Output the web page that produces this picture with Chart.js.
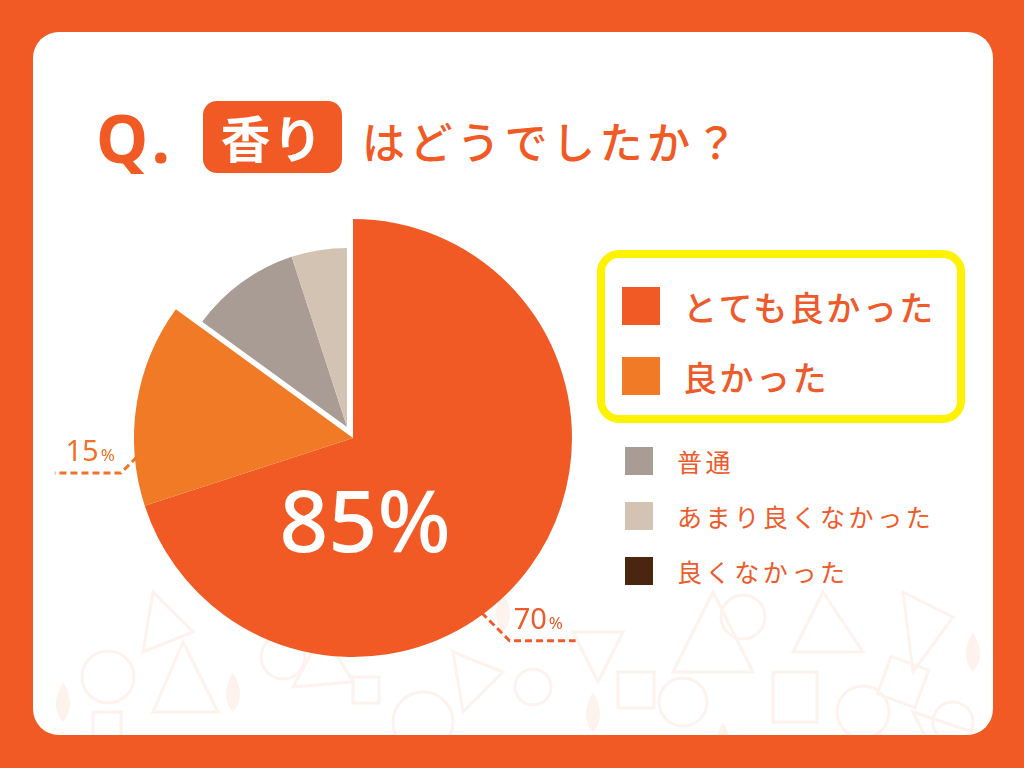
<!DOCTYPE html>
<html lang="ja">
<head>
<meta charset="utf-8">
<title>香りはどうでしたか？</title>
<script src="https://cdn.jsdelivr.net/npm/chart.js@4"></script>
<style>
  html, body { margin: 0; padding: 0; }
  body {
    width: 1024px; height: 768px; overflow: hidden; position: relative;
    background: #F15A24;
    font-family: "Noto Sans CJK JP", "Noto Sans", sans-serif;
  }
  .card {
    position: absolute; left: 33px; top: 32px; width: 960px; height: 703px;
    background: #fff; border-radius: 26px; overflow: hidden;
  }
  .card svg { position: absolute; left: 0; top: 0; }
  canvas { position: absolute; left: 0; top: 0; }
  .q {
    position: absolute; left: 96px; top: 92px; color: #F15A24;
    font: 700 66px "Noto Sans", sans-serif; letter-spacing: 6px;
  }
  .tag {
    position: absolute; left: 203px; top: 101px; width: 139px; height: 72px;
    background: #F15A24; border-radius: 14px; color: #fff;
    font-weight: 700; font-size: 50px; line-height: 70px; text-align: center; letter-spacing: 2px;
  }
  .rest {
    position: absolute; left: 362px; top: 110px; color: #F15A24;
    font-weight: 500; font-size: 43px; letter-spacing: 4.5px; line-height: 60px;
  }
  .hl {
    position: absolute; left: 597px; top: 250px; width: 352px; height: 157px;
    border: 8px solid #FFF200; border-radius: 22px; background: #fff;
  }
  .item { position: absolute; display: flex; align-items: center; color: #EE5A2A; }
  .item span.box { display: inline-block; flex: none; }
</style>
</head>
<body>
<div class="card">
  <svg width="960" height="703" fill="none" stroke="#FDF2EC" stroke-width="3">
    <polygon points="120,560 160,600 110,620" />
    <circle cx="75" cy="645" r="26" />
    <polygon points="150,610 185,680 120,680" />
    <rect x="60" y="680" width="28" height="28" />
    <circle cx="250" cy="625" r="22" />
    <polygon points="290,600 320,650 260,655" />
    <rect x="320" y="645" width="26" height="26" />
    <circle cx="390" cy="690" r="30" />
    <polygon points="420,620 470,640 430,680" />
    <circle cx="500" cy="655" r="18" />
    <polygon points="540,600 590,600 565,650" />
    <rect x="585" y="640" width="36" height="36" />
    <circle cx="650" cy="670" r="24" />
    <polygon points="680,560 720,640 640,640" />
    <circle cx="710" cy="585" r="22" />
    <rect x="740" y="640" width="44" height="50" />
    <polygon points="790,560 830,620 760,620" />
    <circle cx="830" cy="680" r="26" />
    <polygon points="870,560 920,585 880,640" />
    <rect x="850" y="630" width="40" height="40" transform="rotate(20 870 650)" />
    <circle cx="920" cy="690" r="20" />
    <polygon points="880,680 940,700 900,720" />
    <g fill="#FDF2EC" stroke="none">
      <path d="M200,640 q14,24 0,40 q-14,-16 0,-40z" />
      <path d="M560,660 q14,24 0,40 q-14,-16 0,-40z" />
      <path d="M690,690 q14,24 0,40 q-14,-16 0,-40z" />
      <path d="M940,600 q14,24 0,40 q-14,-16 0,-40z" />
      <path d="M30,650 q14,24 0,40 q-14,-16 0,-40z" />
      <path d="M470,560 q14,24 0,40 q-14,-16 0,-40z" />
    </g>
  </svg>
</div>
<div class="q">Q.</div>
<div class="tag">香り</div>
<div class="rest">はどうでしたか？</div>
<div class="hl"></div>
<div id="legend"></div>
<canvas id="pieMain" width="1024" height="768"></canvas>
<canvas id="pieSub" width="1024" height="768"></canvas>
<script>
// answers, share in percent
const categories = ['とても良かった', '良かった', '普通', 'あまり良くなかった', '良くなかった'];
const values = [70, 15, 10, 5, 0];
const colors = ['#F15A24', '#F07A26', '#A89C94', '#D3C3B3', '#4A2610'];
// first two answers are the "good" group: big pie + yellow box
const highlighted = [true, true, false, false, false];
// where along each slice the leader line leaves the pie (0..1), -1 = no label
const leaderAt = [0.57, 0.24, -1, -1, -1];
const leaderDrop = [28, 16, 0, 0, 0];

const clear = 'rgba(0,0,0,0)';

// legend
const legend = document.getElementById('legend');
let bigRow = 0, smallRow = 0;
categories.forEach((name, i) => {
  const el = document.createElement('div');
  el.className = 'item';
  const box = document.createElement('span');
  box.className = 'box';
  box.style.background = colors[i];
  const txt = document.createElement('span');
  txt.textContent = name;
  if (highlighted[i]) {
    el.style.left = '622px';
    el.style.top = (287 + bigRow * 70) + 'px';
    el.style.height = '38px';
    box.style.width = box.style.height = '38px';
    box.style.marginRight = '23px';
    txt.style.fontSize = '34px';
    txt.style.fontWeight = '500';
    txt.style.letterSpacing = '2.5px';
    bigRow++;
  } else {
    el.style.left = '625px';
    el.style.top = (447 + smallRow * 55) + 'px';
    el.style.height = '28px';
    box.style.width = box.style.height = '28px';
    box.style.marginRight = '24px';
    txt.style.fontSize = '25px';
    txt.style.fontWeight = '400';
    txt.style.letterSpacing = '3.6px';
    smallRow++;
  }
  el.appendChild(box);
  el.appendChild(txt);
  legend.appendChild(el);
});

// leader lines + percent labels + total in the big slice
const pieLabels = {
  id: 'pieLabels',
  afterDatasetsDraw(chart) {
    const ctx = chart.ctx;
    const arcs = chart.getDatasetMeta(0).data;
    ctx.save();
    arcs.forEach((arc, i) => {
      if (leaderAt[i] < 0) return;
      const a = arc.startAngle + (arc.endAngle - arc.startAngle) * leaderAt[i];
      const r = arc.outerRadius;
      const x0 = arc.x + Math.cos(a) * (r - 2);
      const y0 = arc.y + Math.sin(a) * (r - 2);
      const dir = Math.cos(a) >= 0 ? 1 : -1;
      const x1 = x0 + dir * leaderDrop[i], y1 = y0 + leaderDrop[i];
      const x2 = x1 + dir * 66;
      const col = i === 1 ? '#EF7228' : '#EE5A2A';
      ctx.strokeStyle = col;
      ctx.lineWidth = 3;
      ctx.setLineDash([7, 4]);
      ctx.beginPath();
      ctx.moveTo(x0, y0);
      ctx.lineTo(x1, y1);
      ctx.lineTo(x2, y1);
      ctx.stroke();
      ctx.setLineDash([]);
      ctx.fillStyle = col;
      ctx.textBaseline = 'alphabetic';
      const num = String(values[i]);
      ctx.font = '400 29px "Noto Sans"';
      const wNum = ctx.measureText(num).width;
      ctx.font = '400 17px "Noto Sans"';
      const wPct = ctx.measureText('%').width;
      const start = dir > 0 ? x1 + 4 : x1 - 6 - wNum - 2 - wPct;
      const by = y1 - 12;
      ctx.font = '400 29px "Noto Sans"';
      ctx.textAlign = 'left';
      ctx.fillText(num, start, by);
      ctx.font = '400 17px "Noto Sans"';
      ctx.fillText('%', start + wNum + 2, by);
    });
    // total of the highlighted group
    const total = values.reduce((s, v, i) => s + (highlighted[i] ? v : 0), 0);
    const c = arcs[0];
    ctx.fillStyle = '#ffffff';
    ctx.font = '500 86px "Noto Sans"';
    ctx.textAlign = 'center';
    ctx.fillText(total + '%', c.x + 12, c.y + 114);
    ctx.restore();
  }
};

const makePie = (id, bg, padding, plugins) => new Chart(document.getElementById(id), {
  type: 'pie',
  data: {
    labels: categories,
    datasets: [{ data: values, backgroundColor: bg, borderWidth: 0 }]
  },
  options: {
    responsive: false,
    animation: false,
    layout: { padding },
    plugins: { legend: { display: false }, tooltip: { enabled: false } }
  },
  plugins
});

// big slices
makePie('pieMain', colors.map((c, i) => highlighted[i] ? c : clear),
  { left: 134, right: 452, top: 219, bottom: 111 }, [pieLabels]);
// remaining slices, smaller and pulled out to the upper left
makePie('pieSub', colors.map((c, i) => highlighted[i] ? clear : c),
  { left: 168, right: 498, top: 248, bottom: 162 }, []);
</script>
</body>
</html>
